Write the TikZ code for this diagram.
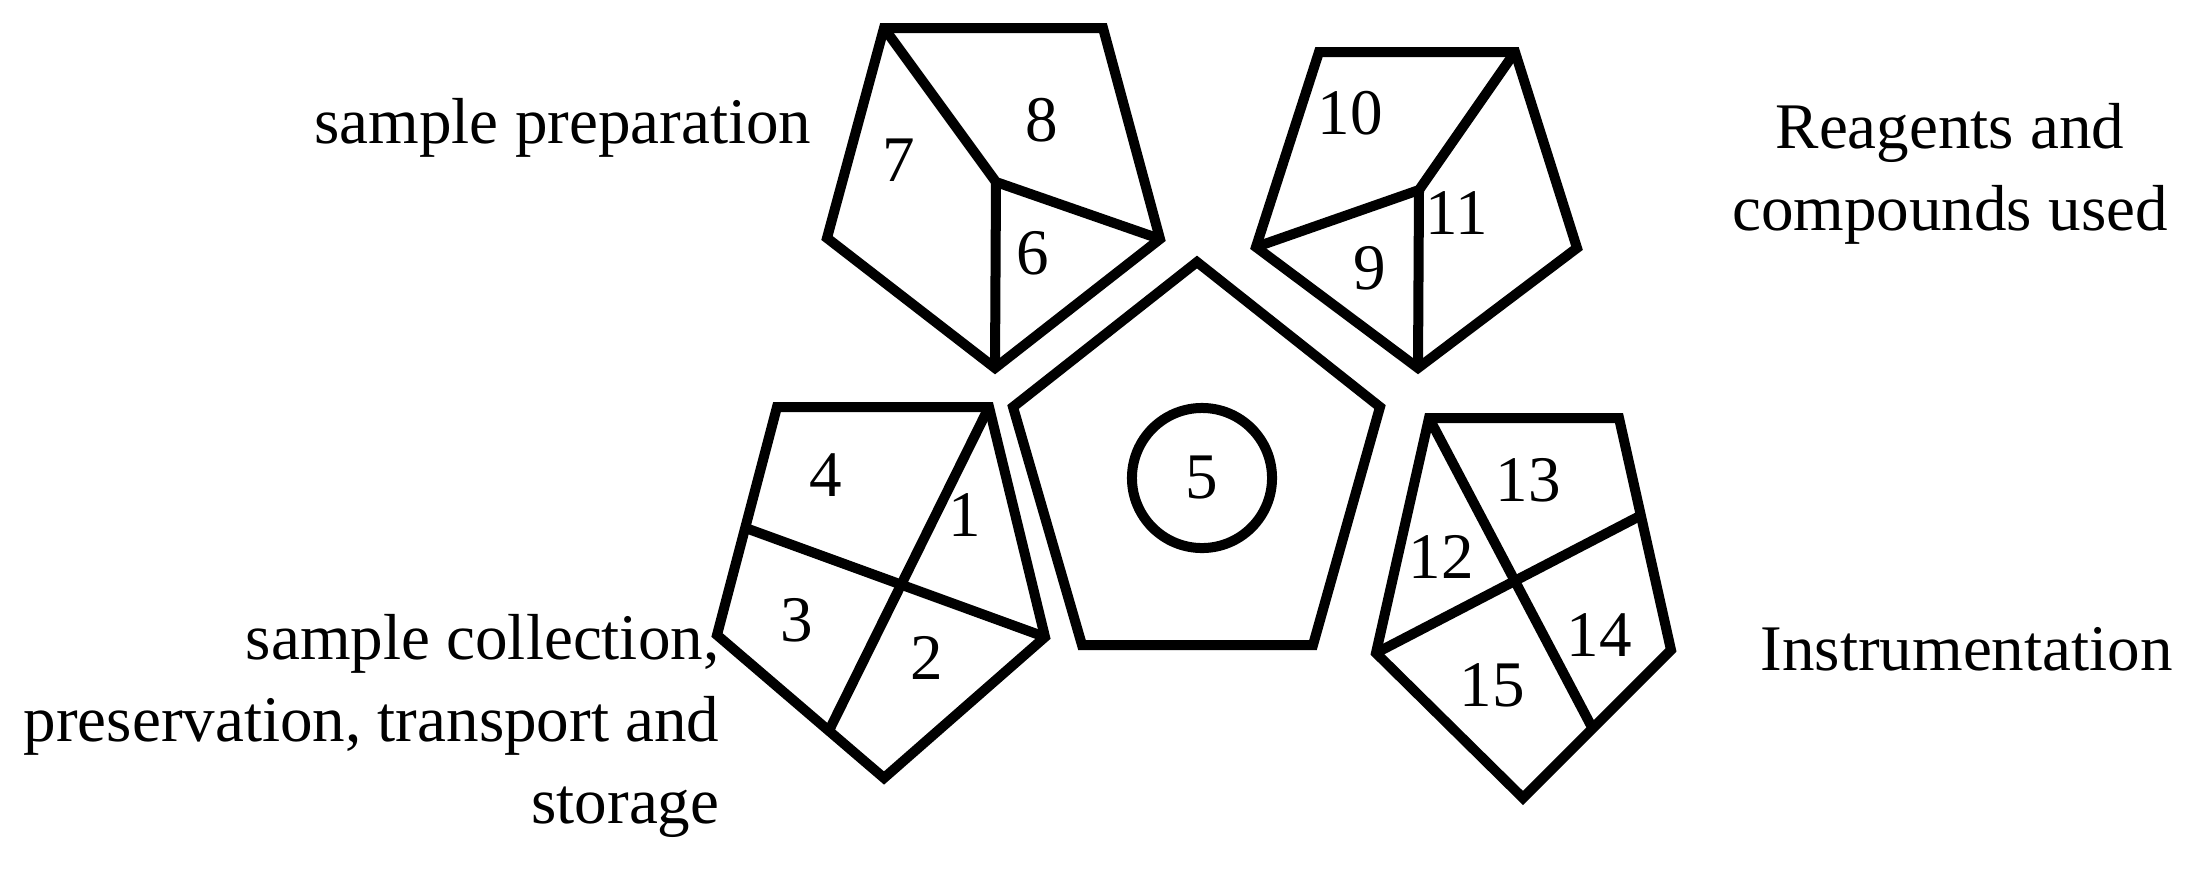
\documentclass[tikz,border=0pt]{standalone}
\usepackage{fontspec}
\setmainfont{Liberation Serif}
\usetikzlibrary{calc}
\begin{document}
\begin{tikzpicture}[x=0.01cm,y=-0.01cm]
        \fontsize{18.5pt}{23.3pt}\selectfont
        \tikzset{
        rim/.style={line width=0.1cm, line join=miter},
        num/.style={inner sep=0pt, anchor=center},
        caption/.style={inner sep=0pt},
        }
        \useasboundingbox (0,0) rectangle (2202,869);

        % Sample preparation (upper left).
        \coordinate (ptl) at (884,28);  % top left
        \coordinate (ptr) at (1103,28); % top right
        \coordinate (pr)  at (1160,239); % right
        \coordinate (pb)  at (995,368); % bottom
        \coordinate (pl)  at (827,238); % left
        \coordinate (pc)  at (996,182); % inner corner
        \draw [rim] (ptl) -- (ptr) -- (pr) -- (pb) -- (pl) -- cycle;
        \draw [rim] (ptl) -- (pc) -- (pr);
        \draw [rim] (pc) -- (pb);
        \node[num] (n7) at (899,160)  {7};
        \node[num] (n8) at (1042,120) {8};
        \node[num] (n6) at (1033,253) {6};

        % Reagents (upper right).
        \coordinate (rtl) at (1319,52);
        \coordinate (rtr) at (1515,52);
        \coordinate (rr)  at (1577,248);
        \coordinate (rb)  at (1418,368);
        \coordinate (rl)  at (1256,247);
        \coordinate (rc)  at (1419,190);
        \draw [rim] (rtl) -- (rtr) -- (rr) -- (rb) -- (rl) -- cycle;
        \draw [rim] (rtr) -- (rc) -- (rl);
        \draw [rim] (rc) -- (rb);
        \node[num] (n10) at (1350,113) {10};
        \node[num] (n11) at (1457,213) {11};
        \node[num] (n9)  at (1370,268) {9};

        % Sample collection (lower left).
        \coordinate (stl) at (777,407);
        \coordinate (str) at (989,407);
        \coordinate (sr)  at (1045,637);
        \coordinate (sb)  at (884,778);
        \coordinate (sl)  at (717,635);
        \draw [rim] (stl) -- (str) -- (sr) -- (sb) -- (sl) -- cycle;
        \draw [rim] (str) -- ($(sl)!0.67!(sb)$);
        \draw [rim] ($(stl)!0.53!(sl)$) -- (sr);
        \node[num] (n4) at (826,475) {4};
        \node[num] (n1) at (965,515) {1};
        \node[num] (n3) at (797,620) {3};
        \node[num] (n2) at (927,658) {2};

        % Centre.
        \coordinate (ct)  at (1197,262);
        \coordinate (cl)  at (1013,407);
        \coordinate (cbl) at (1082,645);
        \coordinate (cbr) at (1313,645);
        \coordinate (cr)  at (1380,407);
        \draw [rim] (ct) -- (cr) -- (cbr) -- (cbl) -- (cl) -- cycle;
        \node[rim, draw, circle, minimum size=1.4cm, inner sep=0pt] (n5) at (1202,478) {5};

        % Instrumentation (lower right).
        \coordinate (itl) at (1429,418);
        \coordinate (itr) at (1619,418);
        \coordinate (ir)  at (1671,650);
        \coordinate (ib)  at (1523,798);
        \coordinate (il)  at (1376,653);
        \draw [rim] (itl) -- (itr) -- (ir) -- (ib) -- (il) -- cycle;
        \draw [rim] (itl) -- ($(ir)!0.53!(ib)$);
        \draw [rim] (il) -- ($(itr)!0.42!(ir)$);
        \node[num] (n13) at (1528,480) {13};
        \node[num] (n12) at (1441,557) {12};
        \node[num] (n14) at (1599,635) {14};
        \node[num] (n15) at (1492,685) {15};

        % Captions.
        \node[caption, anchor=base east] (prep) at (812,143) {sample preparation};
        \node[caption, anchor=north, align=center] (reag) at (1950,103) {Reagents and\\compounds used};
        \node[caption, anchor=north east, align=right] (coll) at (720,614) {sample collection,\\preservation, transport and\\storage};
        \node[caption, anchor=base west] (instr) at (1760,670) {Instrumentation};
\end{tikzpicture}
\end{document}
